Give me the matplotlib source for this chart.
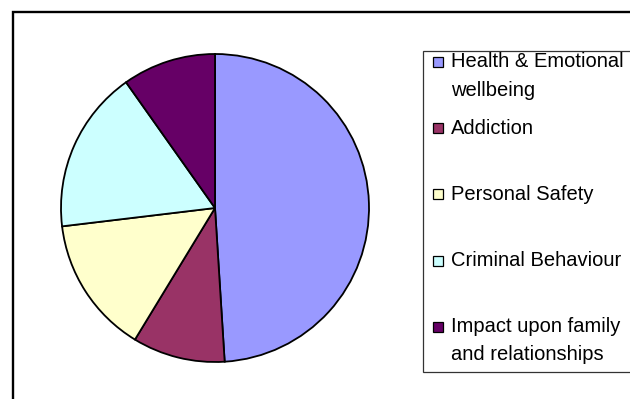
import matplotlib
matplotlib.use('Agg')

import matplotlib.pyplot as plt
from matplotlib.patches import Rectangle

plt.rcParams.update({
    'font.family': ['Liberation Sans', 'DejaVu Sans'],
    'figure.facecolor': 'white',
})

# share of cases by area of need (percent)
labels = ['Health & Emotional\nwellbeing', 'Addiction', 'Personal Safety',
          'Criminal Behaviour', 'Impact upon family\nand relationships']
values = [49.0, 9.7, 14.4, 17.1, 9.8]
colors = ['#9999FF', '#993366', '#FFFFCC', '#CCFFFF', '#660066']

W, H = 630, 399
fig = plt.figure(figsize=(W / 100, H / 100), dpi=100)


def px_box(x0, y0, x1, y1):
    # pixel box (top-left origin) -> figure fraction rect
    return [x0 / W, 1 - y1 / H, (x1 - x0) / W, (y1 - y0) / H]


# outer chart border (runs off the right and bottom edges)
fig.patches.append(Rectangle((12.5 / W, -0.1), 1.0, 1 - 12.5 / H + 0.1,
                             transform=fig.transFigure, fill=False,
                             edgecolor='black', linewidth=1.7))

# pie
cx, cy, r = 215, 208, 154
ax = fig.add_axes(px_box(cx - r - 2, cy - r - 2, cx + r + 2, cy + r + 2))
ax.pie(values, colors=colors, startangle=90, counterclock=False, radius=1.0,
       wedgeprops=dict(edgecolor='black', linewidth=1.3))
lim = (r + 2) / r
ax.set_xlim(-lim, lim)
ax.set_ylim(-lim, lim)
ax.set_aspect('equal')
ax.axis('off')

# legend box
fig.patches.append(Rectangle((423 / W, 1 - 372 / H), 1.0, (372 - 51) / H,
                             transform=fig.transFigure, facecolor='white',
                             edgecolor='#333333', linewidth=0.9))

base0, step = 68, 66.2
for i, (lab, col) in enumerate(zip(labels, colors)):
    b = base0 + i * step
    fig.patches.append(Rectangle((433 / W, 1 - (b - 1) / H), 10 / W, 10 / H,
                                 transform=fig.transFigure, facecolor=col,
                                 edgecolor='black', linewidth=0.9))
    fig.text(451 / W, 1 - (b - 15.7) / H, lab, ha='left', va='top',
             fontsize=14.5, linespacing=1.62, color='black')

fig.savefig('out.png', dpi=100)
